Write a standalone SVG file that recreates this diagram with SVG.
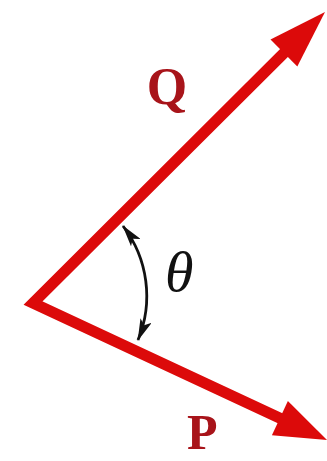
<svg xmlns="http://www.w3.org/2000/svg" width="327" height="461" viewBox="0 0 327 461">
<defs>
<style>
.vec{fill:none;stroke:#dc0a0a;stroke-width:11;stroke-linejoin:miter;stroke-miterlimit:10}
.head{fill:#dc0a0a}
.lbl{font-family:"Liberation Serif",serif;font-weight:bold;fill:#a8141a}
.ang{fill:none;stroke:#111;stroke-width:2.8}
</style>
<marker id="ah" viewBox="0 0 22 12" refX="21" refY="6" markerWidth="22" markerHeight="12" markerUnits="userSpaceOnUse" orient="auto-start-reverse">
<path d="M0,0 L22,6 L0,12 L5,6 Z" fill="#111"/>
</marker>
</defs>
<rect width="327" height="461" fill="#fff"/>
<g id="connectors">
<polyline class="vec" points="287.5,49.5 33,303 284.4,420.2"/>
<path class="ang" d="M123,226 A115,115 0 0 1 138,340" marker-start="url(#ah)" marker-end="url(#ah)"/>
</g>
<g id="Q">
<polygon class="head" points="325,12 297.3,66.5 270.5,39.5"/>
<text class="lbl" x="167" y="104" font-size="52" text-anchor="middle">Q</text>
</g>
<g id="P">
<polygon class="head" points="327,440 271.9,435.3 287.9,400.9"/>
<text class="lbl" x="187" y="449" font-size="50">P</text>
</g>
<g id="theta">
<text x="165" y="291" font-family="Liberation Serif,serif" font-style="italic" font-size="58" fill="#111">θ</text>
</g>
</svg>
